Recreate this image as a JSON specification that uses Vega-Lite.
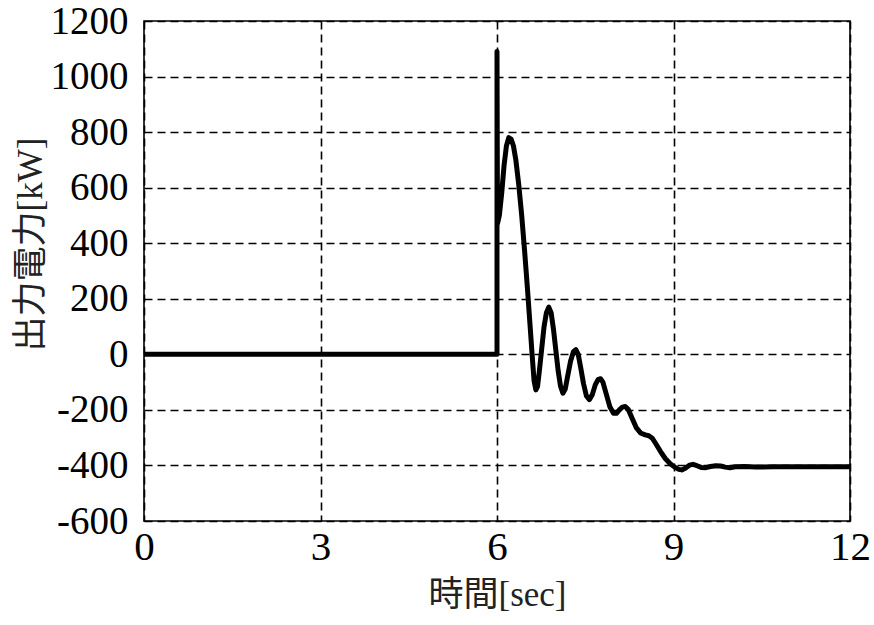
{
  "$schema": "https://vega.github.io/schema/vega-lite/v6.json",
  "width": 706,
  "height": 500,
  "autosize": {"type": "none"},
  "padding": {"left": 144, "top": 21, "right": 24, "bottom": 104},
  "background": "white",
  "config": {
    "view": {"stroke": "black", "strokeWidth": 1.6},
    "axis": {
      "domain": false,
      "ticks": false,
      "tickSize": 0,
      "grid": true,
      "gridColor": "black",
      "gridWidth": 1.6,
      "gridDash": [8, 5],
      "gridOpacity": 1,
      "labelFont": "Liberation Serif",
      "labelColor": "black",
      "labelFlush": false,
      "labelOverlap": false,
      "titleFont": "Liberation Serif, Noto Sans CJK JP",
      "titleFontWeight": "normal",
      "titleColor": "#222222",
      "titleFontSize": 35
    }
  },
  "data": {
    "values": [
      {"i": 0, "t": 0, "p": 0},
      {"i": 1, "t": 6.0, "p": 0},
      {"i": 2, "t": 6.0, "p": 1090},
      {"i": 3, "t": 6.008, "p": 470},
      {"i": 4, "t": 6.04, "p": 500},
      {"i": 5, "t": 6.08, "p": 580},
      {"i": 6, "t": 6.12, "p": 680},
      {"i": 7, "t": 6.16, "p": 750},
      {"i": 8, "t": 6.2, "p": 780},
      {"i": 9, "t": 6.24, "p": 775},
      {"i": 10, "t": 6.28, "p": 750},
      {"i": 11, "t": 6.32, "p": 700},
      {"i": 12, "t": 6.37, "p": 610},
      {"i": 13, "t": 6.42, "p": 500},
      {"i": 14, "t": 6.47, "p": 370},
      {"i": 15, "t": 6.52, "p": 230},
      {"i": 16, "t": 6.56, "p": 110},
      {"i": 17, "t": 6.6, "p": -10},
      {"i": 18, "t": 6.63, "p": -95},
      {"i": 19, "t": 6.66, "p": -128},
      {"i": 20, "t": 6.69, "p": -115},
      {"i": 21, "t": 6.72, "p": -60},
      {"i": 22, "t": 6.76, "p": 20},
      {"i": 23, "t": 6.8, "p": 100},
      {"i": 24, "t": 6.84, "p": 150},
      {"i": 25, "t": 6.88, "p": 170},
      {"i": 26, "t": 6.92, "p": 150},
      {"i": 27, "t": 6.96, "p": 90},
      {"i": 28, "t": 7.0, "p": 15},
      {"i": 29, "t": 7.04, "p": -60},
      {"i": 30, "t": 7.08, "p": -115},
      {"i": 31, "t": 7.12, "p": -140},
      {"i": 32, "t": 7.16, "p": -125},
      {"i": 33, "t": 7.2, "p": -80},
      {"i": 34, "t": 7.25, "p": -25},
      {"i": 35, "t": 7.3, "p": 10},
      {"i": 36, "t": 7.34, "p": 17},
      {"i": 37, "t": 7.38, "p": 0},
      {"i": 38, "t": 7.42, "p": -45},
      {"i": 39, "t": 7.47, "p": -105},
      {"i": 40, "t": 7.52, "p": -150},
      {"i": 41, "t": 7.57, "p": -163},
      {"i": 42, "t": 7.62, "p": -145},
      {"i": 43, "t": 7.67, "p": -110},
      {"i": 44, "t": 7.72, "p": -90},
      {"i": 45, "t": 7.76, "p": -88},
      {"i": 46, "t": 7.8, "p": -100},
      {"i": 47, "t": 7.86, "p": -145},
      {"i": 48, "t": 7.92, "p": -190},
      {"i": 49, "t": 7.98, "p": -212},
      {"i": 50, "t": 8.03, "p": -212},
      {"i": 51, "t": 8.08, "p": -200},
      {"i": 52, "t": 8.13, "p": -190},
      {"i": 53, "t": 8.18, "p": -188},
      {"i": 54, "t": 8.23, "p": -198},
      {"i": 55, "t": 8.3, "p": -232},
      {"i": 56, "t": 8.37, "p": -265},
      {"i": 57, "t": 8.44, "p": -283},
      {"i": 58, "t": 8.52, "p": -290},
      {"i": 59, "t": 8.58, "p": -293},
      {"i": 60, "t": 8.64, "p": -302},
      {"i": 61, "t": 8.7, "p": -322},
      {"i": 62, "t": 8.78, "p": -350},
      {"i": 63, "t": 8.86, "p": -375},
      {"i": 64, "t": 8.94, "p": -393},
      {"i": 65, "t": 9.02, "p": -406},
      {"i": 66, "t": 9.09, "p": -414},
      {"i": 67, "t": 9.14, "p": -416},
      {"i": 68, "t": 9.2, "p": -410},
      {"i": 69, "t": 9.27, "p": -399},
      {"i": 70, "t": 9.33, "p": -396},
      {"i": 71, "t": 9.4, "p": -401},
      {"i": 72, "t": 9.47, "p": -407},
      {"i": 73, "t": 9.55, "p": -408},
      {"i": 74, "t": 9.63, "p": -404},
      {"i": 75, "t": 9.72, "p": -401},
      {"i": 76, "t": 9.8, "p": -402},
      {"i": 77, "t": 9.88, "p": -406},
      {"i": 78, "t": 9.96, "p": -408},
      {"i": 79, "t": 10.05, "p": -405},
      {"i": 80, "t": 10.2, "p": -404},
      {"i": 81, "t": 10.4, "p": -406},
      {"i": 82, "t": 10.7, "p": -405},
      {"i": 83, "t": 11.2, "p": -405},
      {"i": 84, "t": 12.0, "p": -405}
    ]
  },
  "mark": {"type": "line", "color": "black", "strokeWidth": 5, "strokeJoin": "round", "strokeCap": "butt", "clip": true},
  "encoding": {
    "order": {"field": "i", "type": "quantitative"},
    "x": {
      "field": "t",
      "type": "quantitative",
      "scale": {"domain": [0, 12], "nice": false},
      "axis": {
        "values": [0, 3, 6, 9, 12],
        "labelExpr": "datum.value + ''",
        "title": "時間[sec]",
        "labelFontSize": 41,
        "labelPadding": 6,
        "titleY": 73,
        "titleBaseline": "middle"
      }
    },
    "y": {
      "field": "p",
      "type": "quantitative",
      "scale": {"domain": [-600, 1200], "nice": false, "zero": false},
      "axis": {
        "values": [-600, -400, -200, 0, 200, 400, 600, 800, 1000, 1200],
        "labelExpr": "datum.value + ''",
        "title": "出力電力[kW]",
        "labelFontSize": 39,
        "labelPadding": 16,
        "labelBaseline": "middle",
        "titleX": -114,
        "titleY": 223,
        "titleAlign": "center",
        "titleBaseline": "middle",
        "titleAngle": 270
      }
    }
  }
}
